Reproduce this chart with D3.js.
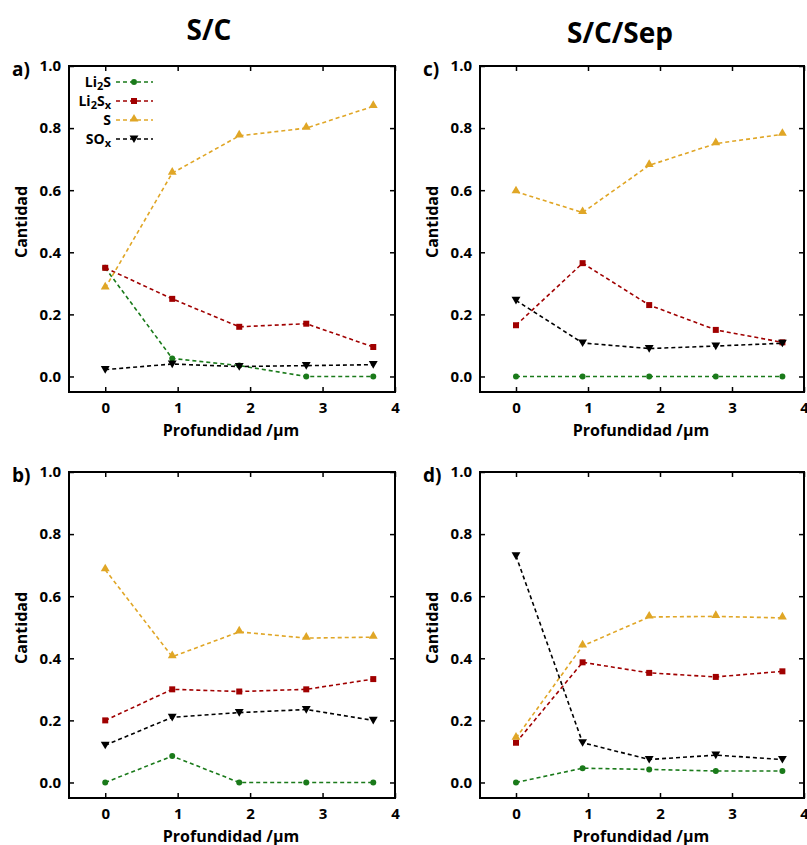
<!DOCTYPE html>
<html>
<head>
<meta charset="utf-8">
<script src="https://cdn.jsdelivr.net/npm/d3@7"></script>
<style>
  body { margin: 0; background: #fff; }
  svg text { font-family: "Open Sans", "Noto Sans", sans-serif; font-weight: bold; }
</style>
</head>
<body>
<div id="chart"></div>
<script>
// depth positions (µm)
const depth = [0, 0.925, 1.85, 2.775, 3.7];

const seriesNames = ["Li2S", "Li2Sx", "S", "SOx"];
const seriesColors = ["#1a7a1a", "#a00000", "#e0a626", "#000000"];
const seriesSymbols = [d3.symbolCircle, d3.symbolSquare, d3.symbolTriangle, d3.symbolTriangle];

// panel a) S/C
const aLi2S  = [0.35, 0.058, 0.035, 0.0, 0.0];
const aLi2Sx = [0.35, 0.25, 0.16, 0.17, 0.095];
const aS     = [0.285, 0.655, 0.775, 0.80, 0.87];
const aSOx   = [0.022, 0.04, 0.032, 0.035, 0.038];

// panel b) S/C
const bLi2S  = [0.0, 0.085, 0.0, 0.0, 0.0];
const bLi2Sx = [0.20, 0.30, 0.293, 0.30, 0.333];
const bS     = [0.685, 0.405, 0.485, 0.465, 0.468];
const bSOx   = [0.12, 0.21, 0.225, 0.235, 0.20];

// panel c) S/C/Sep
const cLi2S  = [0.0, 0.0, 0.0, 0.0, 0.0];
const cLi2Sx = [0.165, 0.365, 0.23, 0.15, 0.11];
const cS     = [0.595, 0.528, 0.68, 0.75, 0.78];
const cSOx   = [0.245, 0.108, 0.09, 0.098, 0.107];

// panel d) S/C/Sep
const dLi2S  = [0.0, 0.046, 0.042, 0.037, 0.037];
const dLi2Sx = [0.128, 0.387, 0.353, 0.34, 0.358];
const dS     = [0.143, 0.44, 0.533, 0.535, 0.53];
const dSOx   = [0.73, 0.128, 0.074, 0.088, 0.074];

const xTicks = [0, 1, 2, 3, 4];
const yTicks = [0.0, 0.2, 0.4, 0.6, 0.8, 1.0];

const width = 807, height = 845;
const svg = d3.select("#chart").append("svg")
    .attr("width", width)
    .attr("height", height);

// column titles
svg.append("text").attr("x", 209).attr("y", 40).attr("text-anchor", "middle")
    .style("font-size", "28px").text("S/C");
svg.append("text").attr("x", 620).attr("y", 43).attr("text-anchor", "middle")
    .style("font-size", "28px").text("S/C/Sep");

const panels = [
    {label: "a)", left: 69, top: 66, w: 326, data: [aLi2S, aLi2Sx, aS, aSOx], legend: true},
    {label: "b)", left: 69, top: 472, w: 326, data: [bLi2S, bLi2Sx, bS, bSOx]},
    {label: "c)", left: 480, top: 66, w: 324, data: [cLi2S, cLi2Sx, cS, cSOx]},
    {label: "d)", left: 480, top: 472, w: 324, data: [dLi2S, dLi2Sx, dS, dSOx]}
];
const ph = 326;

for (let p of panels) drawPanel(p);

function symbolPath(i, size) {
    let sym = d3.symbol().type(seriesSymbols[i]).size(size);
    return sym();
}

function drawMarker(g, i, x, y) {
    let size = i === 0 ? 28 : (i === 1 ? 36 : 34);
    let m = g.append("path")
        .attr("d", symbolPath(i, size))
        .attr("fill", seriesColors[i])
        .attr("stroke", "none");
    if (i === 3) m.attr("transform", "translate(" + x + "," + (y - 1) + ") rotate(180)");
    else if (i === 2) m.attr("transform", "translate(" + x + "," + (y - 1) + ")");
    else m.attr("transform", "translate(" + x + "," + y + ")");
}

function drawPanel(p) {
    const g = svg.append("g").attr("transform", "translate(" + p.left + "," + p.top + ")");
    const x = d3.scaleLinear().domain([-0.5, 4]).range([0, p.w]);
    const y = d3.scaleLinear().domain([-0.05, 1.0]).range([ph, 0]);

    // tick marks inward on all sides
    const tk = 5;
    g.append("g").attr("transform", "translate(0," + ph + ")")
        .call(d3.axisBottom(x).tickValues(xTicks).tickSize(-tk).tickPadding(10).tickFormat(d3.format("d")))
        .call(ax => ax.select(".domain").remove());
    g.append("g")
        .call(d3.axisTop(x).tickValues(xTicks).tickSize(-tk).tickFormat(""))
        .call(ax => ax.select(".domain").remove());
    g.append("g")
        .call(d3.axisLeft(y).tickValues(yTicks).tickSize(-tk).tickPadding(8).tickFormat(d3.format(".1f")))
        .call(ax => ax.select(".domain").remove());
    g.append("g").attr("transform", "translate(" + p.w + ",0)")
        .call(d3.axisRight(y).tickValues(yTicks).tickSize(-tk).tickFormat(""))
        .call(ax => ax.select(".domain").remove());

    g.selectAll(".tick line").attr("stroke", "#000").attr("stroke-width", 1.5);
    g.selectAll(".tick text").style("font-size", "15px").attr("fill", "#000")
        .style("font-family", "'Open Sans', sans-serif").style("font-weight", "bold");

    // frame
    g.append("rect").attr("width", p.w).attr("height", ph)
        .attr("fill", "none").attr("stroke", "#000").attr("stroke-width", 2);

    // series
    const line = d3.line().x((d, k) => x(depth[k])).y(d => y(d));
    p.data.forEach((vals, i) => {
        g.append("path").datum(vals)
            .attr("d", line)
            .attr("fill", "none")
            .attr("stroke", seriesColors[i])
            .attr("stroke-width", 1.6)
            .attr("stroke-dasharray", "4,3");
        vals.forEach((v, k) => drawMarker(g, i, x(depth[k]), y(v)));
    });

    // panel label
    svg.append("text").attr("x", p.left - 57).attr("y", p.top + 10)
        .style("font-size", "19px").text(p.label);

    // axis titles
    svg.append("text").attr("x", p.left + p.w / 2 - 1).attr("y", p.top + ph + 44)
        .attr("text-anchor", "middle").style("font-size", "16px")
        .text("Profundidad /µm");
    svg.append("text")
        .attr("transform", "translate(" + (p.left - 42) + "," + (p.top + ph / 2 - 7) + ") rotate(-90)")
        .attr("text-anchor", "middle").style("font-size", "16px")
        .text("Cantidad");

    if (p.legend) drawLegend(g);
}

function drawLegend(g) {
    const rows = [
        {base: "Li", sub1: "2", mid: "S", sub2: ""},
        {base: "Li", sub1: "2", mid: "S", sub2: "x"},
        {base: "", sub1: "", mid: "S", sub2: ""},
        {base: "", sub1: "", mid: "SO", sub2: "x"}
    ];
    rows.forEach((r, i) => {
        const yy = 16 + i * 19;
        const t = g.append("text").attr("x", 42).attr("y", yy + 5)
            .attr("text-anchor", "end").style("font-size", "14px");
        if (r.base) t.append("tspan").text(r.base);
        if (r.sub1) t.append("tspan").attr("dy", 3).style("font-size", "11px").text(r.sub1);
        t.append("tspan").attr("dy", r.sub1 ? -3 : 0).text(r.mid);
        if (r.sub2) t.append("tspan").attr("dy", 3).style("font-size", "11px").text(r.sub2);
        g.append("line").attr("x1", 47).attr("x2", 84).attr("y1", yy).attr("y2", yy)
            .attr("stroke", seriesColors[i]).attr("stroke-width", 1.6)
            .attr("stroke-dasharray", "4,3");
        drawMarker(g, i, 65, yy);
    });
}
</script>
</body>
</html>
